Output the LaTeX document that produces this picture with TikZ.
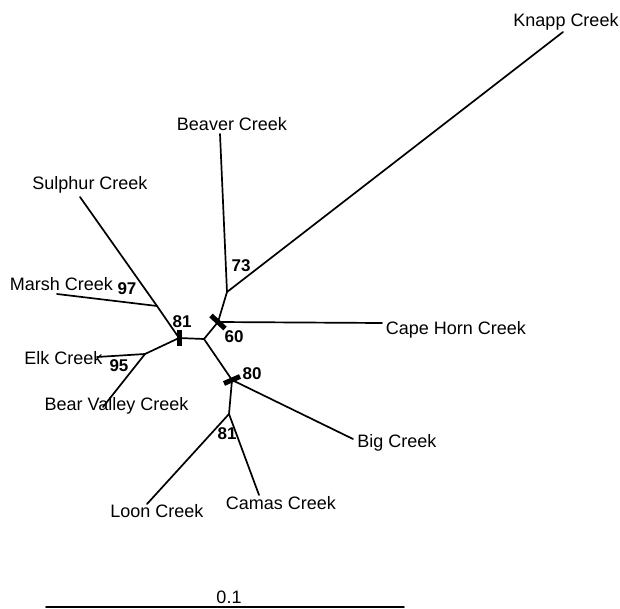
\documentclass[tikz,border=0pt]{standalone}
\usepackage{fontspec}
\setmainfont{Liberation Sans}
\usepackage{tikz}

\begin{document}
\begin{tikzpicture}[x=1pt,y=-1pt]

%
% Styles
%
\tikzstyle{taxon}   = [font=\fontsize{18}{20}\selectfont, inner sep=0pt, anchor=base]
\tikzstyle{boot}    = [font=\fontsize{17}{19}\selectfont\bfseries, inner sep=0pt, anchor=base]
\tikzstyle{branch}  = [line width=1.7pt, line cap=round, line join=round]
\tikzstyle{support} = [line width=5pt]

\useasboundingbox (0,0) rectangle (620,609);

% inner vertices
\coordinate (root) at (204,339);
\coordinate (v81a) at (179,338);
\coordinate (v97)  at (157,306);
\coordinate (v95)  at (145,354);
\coordinate (v60)  at (218,322);
\coordinate (v73)  at (227,292);
\coordinate (v80)  at (232,380);
\coordinate (v81b) at (229,414);

% tips
\coordinate (sulphur) at (80,197);
\coordinate (marsh)   at (57,294);
\coordinate (elk)     at (97,357);
\coordinate (bear)    at (103,407);
\coordinate (beaver)  at (220,134);
\coordinate (knapp)   at (563,32);
\coordinate (cape)    at (382,323);
\coordinate (big)     at (353,439);
\coordinate (loon)    at (147,504);
\coordinate (camas)   at (259,495);

\draw[branch] (root) -- (v81a);
\draw[branch] (root) -- (v60);
\draw[branch] (root) -- (v80);
\draw[branch] (v81a) -- (v97);
\draw[branch] (v97) -- (sulphur);
\draw[branch] (v97) -- (marsh);
\draw[branch] (v81a) -- (v95);
\draw[branch] (v95) -- (elk);
\draw[branch] (v95) -- (bear);
\draw[branch] (v60) -- (cape);
\draw[branch] (v60) -- (v73);
\draw[branch] (v73) -- (beaver);
\draw[branch] (v73) -- (knapp);
\draw[branch] (v80) -- (big);
\draw[branch] (v80) -- (v81b);
\draw[branch] (v81b) -- (loon);
\draw[branch] (v81b) -- (camas);

\draw[support] (v81a) ++(0,-8) -- ++(0,16);
\draw[support] (v60) ++(-7,-6.5) -- ++(14,13);
\draw[support] (v80) ++(-8,3.5) -- ++(16,-7);

\node[taxon] (tknapp)   at (566,26.5) {Knapp Creek};
\node[taxon] (tbeaver)  at (232,131)  {Beaver Creek};
\node[taxon] (tcape)    at (456,334)  {Cape Horn Creek};
\node[taxon] (tsulphur) at (90,190)   {Sulphur Creek};
\node[taxon] (tmarsh)   at (61.5,290) {Marsh Creek};
\node[taxon] (telk)     at (63.5,364) {Elk Creek};
\node[taxon] (tbear)    at (116.5,410) {Bear Valley Creek};
\node[taxon] (tbig)     at (397,447)  {Big Creek};
\node[taxon] (tcamas)   at (281,509)  {Camas Creek};
\node[taxon] (tloon)    at (157,517)  {Loon Creek};

\node[boot] (b81a) at (182,327) {81};
\node[boot] (b60)  at (234,342) {60};
\node[boot] (b80)  at (252,379) {80};
\node[boot] (b73)  at (241,272) {73};
\node[boot] (b97)  at (127,294) {97};
\node[boot] (b95)  at (119,371) {95};
\node[boot] (b81b) at (227,439) {81};

% scale bar
\coordinate (s0) at (46,607);
\coordinate (s1) at (404,607);
\draw[branch] (s0) -- (s1);
\node[taxon] (tscale) at (229,603) {0.1};

\end{tikzpicture}
\end{document}
